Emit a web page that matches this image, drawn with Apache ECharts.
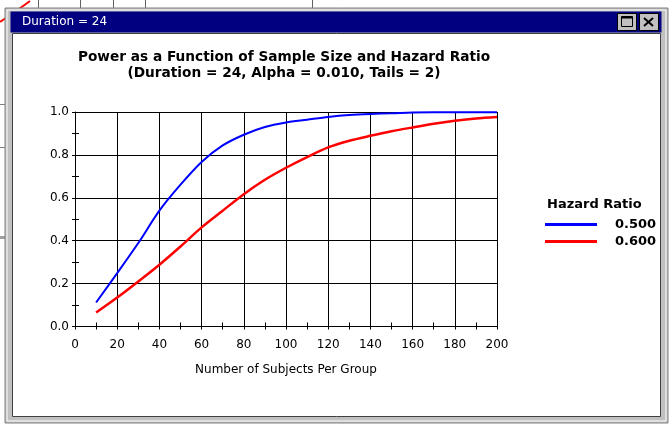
<!DOCTYPE html>
<html>
<head>
<meta charset="utf-8">
<title>Power as a Function of Sample Size and Hazard Ratio</title>
<script src="https://cdn.jsdelivr.net/npm/echarts@6/dist/echarts.min.js"></script>
<style>
  html, body { margin: 0; padding: 0; background: #ffffff; }
  #chart { width: 669px; height: 425px; }
</style>
</head>
<body>
<div id="chart"></div>
<script>
// Number of subjects per group
const sampleSizes = [10, 20, 30, 40, 50, 60, 70, 80, 90, 100, 110, 120, 130, 140, 150, 160, 170, 180, 190, 200];
// Power for hazard ratio 0.500
const power050 = [0.112, 0.249, 0.389, 0.540, 0.661, 0.767, 0.844, 0.894, 0.930, 0.951, 0.964, 0.977, 0.986, 0.991, 0.994, 0.998, 0.999, 0.999, 0.999, 0.999];
// Power for hazard ratio 0.600
const power060 = [0.065, 0.135, 0.210, 0.288, 0.373, 0.462, 0.540, 0.617, 0.684, 0.740, 0.790, 0.835, 0.866, 0.889, 0.910, 0.928, 0.945, 0.959, 0.970, 0.977];
const seriesNames = ['0.500', '0.600'];
const yTicks = [0.0, 0.2, 0.4, 0.6, 0.8, 1.0];
const xTicks = [0, 20, 40, 60, 80, 100, 120, 140, 160, 180, 200];

const FONT = '"DejaVu Sans", Verdana, sans-serif';
const chart = echarts.init(document.getElementById('chart'), null, { renderer: 'canvas', width: 669, height: 425 });

function pairs(xs, ys) { return xs.map((x, i) => [x, ys[i]]); }

// Window chrome drawn behind the chart
const chrome = [
  // bits of the window behind
  { type: 'polyline', shape: { points: [[0, 22], [12, 14], [30, 1]] }, style: { stroke: '#ff0000', lineWidth: 2, fill: null }, z: -20 },
  { type: 'line', shape: { x1: 38.5, y1: 0, x2: 38.5, y2: 8 }, style: { stroke: '#606060', lineWidth: 1 }, z: -20 },
  { type: 'line', shape: { x1: 80.5, y1: 0, x2: 80.5, y2: 8 }, style: { stroke: '#606060', lineWidth: 1 }, z: -20 },
  { type: 'line', shape: { x1: 113.5, y1: 0, x2: 113.5, y2: 8 }, style: { stroke: '#606060', lineWidth: 1 }, z: -20 },
  { type: 'line', shape: { x1: 145.5, y1: 0, x2: 145.5, y2: 8 }, style: { stroke: '#606060', lineWidth: 1 }, z: -20 },
  { type: 'line', shape: { x1: 312.5, y1: 0, x2: 312.5, y2: 8 }, style: { stroke: '#606060', lineWidth: 1 }, z: -20 },
  { type: 'line', shape: { x1: 0, y1: 104.5, x2: 6, y2: 104.5 }, style: { stroke: '#808080', lineWidth: 1 }, z: -20 },
  { type: 'line', shape: { x1: 0, y1: 147.5, x2: 6, y2: 147.5 }, style: { stroke: '#808080', lineWidth: 1 }, z: -20 },
  { type: 'rect', shape: { x: 0, y: 236, width: 6, height: 3 }, style: { fill: '#a0a0a0' }, z: -20 },
  // window frame
  { type: 'rect', shape: { x: 5, y: 8, width: 663, height: 415 }, style: { fill: '#c0c0c0', stroke: '#808080', lineWidth: 1 }, z: -15 },
  { type: 'rect', shape: { x: 7, y: 10, width: 659, height: 411 }, style: { fill: '#c0c0c0', stroke: '#ffffff', lineWidth: 1 }, z: -14 },
  { type: 'rect', shape: { x: 10.5, y: 11.5, width: 651, height: 21 }, style: { fill: '#000080' }, z: -13 },
  { type: 'rect', shape: { x: 12.5, y: 33.5, width: 648, height: 383 }, style: { fill: '#ffffff', stroke: '#404040', lineWidth: 1 }, z: -13 },
  { type: 'text', x: 22, y: 22, style: { text: 'Duration = 24', fill: '#ffffff', font: '12px ' + FONT, verticalAlign: 'middle' }, z: -12 },
  // maximize button
  { type: 'rect', shape: { x: 617.5, y: 13.5, width: 19, height: 17 }, style: { fill: '#c0c0c0', stroke: '#000000', lineWidth: 1 }, z: -12 },
  { type: 'rect', shape: { x: 621.5, y: 16.5, width: 11, height: 10 }, style: { fill: 'none', stroke: '#000000', lineWidth: 1 }, z: -11 },
  { type: 'rect', shape: { x: 621.5, y: 16.5, width: 11, height: 2 }, style: { fill: '#000000' }, z: -11 },
  // close button
  { type: 'rect', shape: { x: 639.5, y: 13.5, width: 19, height: 17 }, style: { fill: '#c0c0c0', stroke: '#000000', lineWidth: 1 }, z: -12 },
  { type: 'line', shape: { x1: 644, y1: 18, x2: 653, y2: 26 }, style: { stroke: '#000000', lineWidth: 2 }, z: -11 },
  { type: 'line', shape: { x1: 653, y1: 18, x2: 644, y2: 26 }, style: { stroke: '#000000', lineWidth: 2 }, z: -11 }
];

const axisLabelStyle = { color: '#000000', fontFamily: FONT, fontSize: 12 };

const option = {
  backgroundColor: '#ffffff',
  animation: false,
  graphic: chrome,
  title: [
    {
      text: 'Power as a Function of Sample Size and Hazard Ratio\n(Duration = 24, Alpha = 0.010, Tails = 2)',
      left: 279, top: 44, textAlign: 'center',
      textStyle: { color: '#000000', fontFamily: FONT, fontSize: 13.7, fontWeight: 'bold', lineHeight: 16, align: 'center' }
    },
    {
      text: 'Hazard Ratio',
      left: 542, top: 193,
      textStyle: { color: '#000000', fontFamily: FONT, fontSize: 13, fontWeight: 'bold' }
    }
  ],
  legend: {
    orient: 'vertical',
    left: 540, top: 213,
    itemWidth: 52, itemHeight: 3, itemGap: 4,
    icon: 'rect',
    data: seriesNames,
    textStyle: { color: '#000000', fontFamily: FONT, fontSize: 13, fontWeight: 'bold', padding: [0, 0, 0, 13] }
  },
  grid: { left: 75, top: 112, width: 422, height: 214.5, containLabel: false },
  xAxis: [
    {
      type: 'value', min: 0, max: 200, interval: 20,
      name: 'Number of Subjects Per Group', nameLocation: 'middle', nameGap: 37,
      nameTextStyle: { color: '#000000', fontFamily: FONT, fontSize: 12 },
      axisLine: { show: true, lineStyle: { color: '#000000', width: 1 } },
      axisTick: { show: true, inside: false, length: 3, lineStyle: { color: '#000000' } },
      minorTick: { show: true, splitNumber: 2, length: 3, lineStyle: { color: '#000000' } },
      axisLabel: Object.assign({ margin: 12 }, axisLabelStyle),
      splitLine: { show: true, lineStyle: { color: '#000000', width: 1 } }
    },
    {
      type: 'value', min: 0, max: 200, interval: 10, position: 'bottom',
      axisLine: { show: false },
      axisTick: { show: true, inside: true, length: 4, lineStyle: { color: '#000000' } },
      axisLabel: { show: false },
      splitLine: { show: false }
    }
  ],
  yAxis: [
    {
      type: 'value', min: 0, max: 1, interval: 0.2,
      axisLine: { show: true, lineStyle: { color: '#000000', width: 1 } },
      axisTick: { show: true, inside: false, length: 3, lineStyle: { color: '#000000' } },
      minorTick: { show: true, splitNumber: 2, length: 3, lineStyle: { color: '#000000' } },
      axisLabel: Object.assign({ margin: 6, formatter: v => yTicks.find(t => Math.abs(t - v) < 1e-9).toFixed(1) }, axisLabelStyle),
      splitLine: { show: true, lineStyle: { color: '#000000', width: 1 } }
    },
    {
      type: 'value', min: 0, max: 1, interval: 0.1, position: 'left',
      axisLine: { show: false },
      axisTick: { show: true, inside: true, length: 4, lineStyle: { color: '#000000' } },
      axisLabel: { show: false },
      splitLine: { show: false }
    }
  ],
  series: [
    {
      name: seriesNames[0], type: 'line', data: pairs(sampleSizes, power050),
      showSymbol: false, smooth: 0.3,
      lineStyle: { color: '#0000ff', width: 2 }, itemStyle: { color: '#0000ff' }, z: 4
    },
    {
      name: seriesNames[1], type: 'line', data: pairs(sampleSizes, power060),
      showSymbol: false, smooth: 0.3,
      lineStyle: { color: '#ff0000', width: 2.5 }, itemStyle: { color: '#ff0000' }, z: 3
    }
  ]
};

chart.setOption(option);
</script>
</body>
</html>
